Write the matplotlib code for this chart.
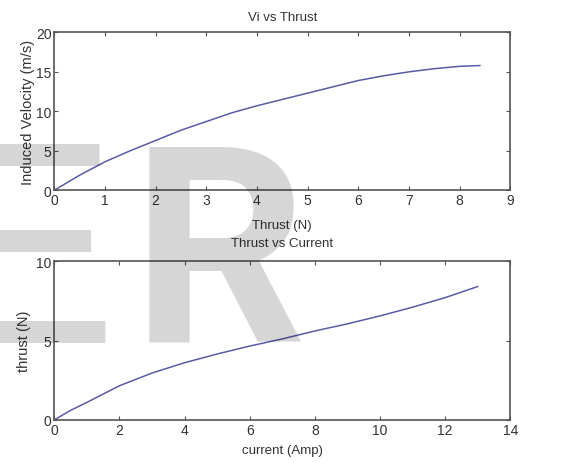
import matplotlib
matplotlib.use("Agg")
import matplotlib.pyplot as plt

# Vi vs Thrust
thrust_a = [0, 0.5, 1, 1.5, 2, 2.5, 3, 3.5, 4, 4.5, 5, 5.5, 6, 6.5, 7, 7.5, 8, 8.4]
vi = [0, 1.9, 3.6, 5.0, 6.3, 7.6, 8.7, 9.8, 10.7, 11.5, 12.3, 13.1, 13.9, 14.5, 15.0, 15.4, 15.7, 15.8]

# Thrust vs Current
current = [0, 0.5, 1, 2, 3, 4, 5, 6, 7, 8, 9, 10, 11, 12, 13]
thrust_b = [0, 0.6, 1.1, 2.15, 2.95, 3.6, 4.15, 4.65, 5.1, 5.6, 6.05, 6.55, 7.1, 7.7, 8.4]

line_col = "#5a5aa8"
ax_col = "#555555"
txt_col = "#333333"

plt.rcParams["font.family"] = ["Liberation Sans", "DejaVu Sans"]

fig = plt.figure(figsize=(5.72, 4.64), dpi=100)

def style(ax):
    for s in ax.spines.values():
        s.set_color(ax_col)
        s.set_linewidth(1.2)
    ax.tick_params(direction="in", top=True, right=True, length=3,
                   colors=ax_col, labelcolor=txt_col, labelsize=10, pad=2)

ax1 = fig.add_axes([0.095, 0.588, 0.797, 0.340])
ax1.plot(thrust_a, vi, color=line_col, lw=1.1)
ax1.set_xlim(0, 9)
ax1.set_ylim(0, 20)
ax1.set_xticks(range(0, 10))
ax1.set_yticks([0, 5, 10, 15, 20])
ax1.set_title("Vi vs Thrust", fontsize=9.5, color=txt_col, pad=9)
ax1.set_xlabel("Thrust (N)", fontsize=9.5, color=txt_col, labelpad=9)
ax1.set_ylabel("Induced Velocity (m/s)", fontsize=10.5, color=txt_col, labelpad=1)
style(ax1)

ax2 = fig.add_axes([0.095, 0.093, 0.797, 0.342])
ax2.plot(current, thrust_b, color=line_col, lw=1.1)
ax2.set_xlim(0, 14)
ax2.set_ylim(0, 10)
ax2.set_xticks(range(0, 15, 2))
ax2.set_yticks([0, 5, 10])
ax2.set_title("Thrust vs Current", fontsize=9.5, color=txt_col, pad=11)
ax2.set_xlabel("current (Amp)", fontsize=9.5, color=txt_col, labelpad=5)
ax2.set_ylabel("thrust (N)", fontsize=10.5, color=txt_col, labelpad=4)
style(ax2)

# watermark letters
fig.text(117 / 572, 1 - 343 / 464, "E", ha="right", va="baseline",
         fontsize=208, color="black", alpha=0.16)
fig.text(132 / 572, 1 - 343 / 464, "R", ha="left", va="baseline",
         fontsize=197, fontweight="bold", family="Roboto",
         color="black", alpha=0.16)

fig.savefig("out.png", dpi=100)
